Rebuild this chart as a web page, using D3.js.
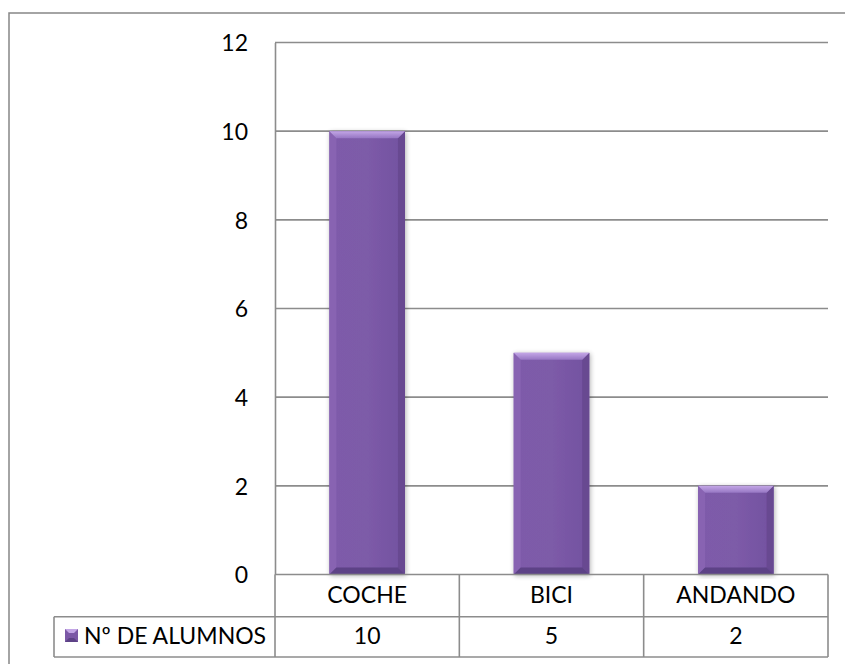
<!DOCTYPE html>
<html>
<head>
<meta charset="utf-8">
<script src="https://cdn.jsdelivr.net/npm/d3@7"></script>
<style>
  html, body { margin: 0; padding: 0; background: #fff; }
  svg { display: block; }
  text { font-family: Lato, "Open Sans", sans-serif; fill: #000; }
</style>
</head>
<body>
<svg id="chart" width="845" height="664"></svg>
<script>
// Chart data
const categories = ["COCHE", "BICI", "ANDANDO"];
const seriesName = "Nº DE ALUMNOS";
const values = [10, 5, 2];
const yTicks = [0, 2, 4, 6, 8, 10, 12];

const W = 845, H = 664;
const plot = { left: 275, right: 828, top: 42.5, bottom: 574.5 };
const table = { left: 54, row1: 616.7, row2: 657 };
const fontSize = 23;

const svg = d3.select("#chart");
const defs = svg.append("defs");

// Bar body gradient and soft shadow
const body = defs.append("linearGradient").attr("id", "barBody")
  .attr("x1", 0).attr("y1", 0).attr("x2", 1).attr("y2", 0);
body.append("stop").attr("offset", "0%").attr("stop-color", "#7e5aaa");
body.append("stop").attr("offset", "50%").attr("stop-color", "#7d5ba8");
body.append("stop").attr("offset", "100%").attr("stop-color", "#7251a0");

const topBevel = defs.append("linearGradient").attr("id", "topBevel")
  .attr("x1", 0).attr("y1", 0).attr("x2", 0).attr("y2", 1);
topBevel.append("stop").attr("offset", "0%").attr("stop-color", "#c3a6e6");
topBevel.append("stop").attr("offset", "100%").attr("stop-color", "#9676c3");

const shadow = defs.append("filter").attr("id", "barShadow")
  .attr("x", "-20%").attr("y", "-5%").attr("width", "140%").attr("height", "110%");
shadow.append("feGaussianBlur").attr("in", "SourceAlpha").attr("stdDeviation", 2.5).attr("result", "b");
shadow.append("feOffset").attr("in", "b").attr("dx", 1).attr("dy", 1).attr("result", "o");
shadow.append("feComponentTransfer").attr("in", "o").attr("result", "s")
  .append("feFuncA").attr("type", "linear").attr("slope", 0.3);
const merge = shadow.append("feMerge");
merge.append("feMergeNode").attr("in", "s");
merge.append("feMergeNode").attr("in", "SourceGraphic");

// Outer chart frame
svg.append("rect")
  .attr("x", 9).attr("y", 13).attr("width", W).attr("height", H)
  .attr("fill", "none").attr("stroke", "#868686").attr("stroke-width", 1.5);

// Scales
const y = d3.scaleLinear().domain([0, 12]).range([plot.bottom, plot.top]);
const x = d3.scaleBand().domain(categories).range([plot.left, plot.right])
  .paddingInner(0.59).paddingOuter(0.295);
const cat = d3.scaleBand().domain(categories).range([plot.left, plot.right]);

// Horizontal gridlines
svg.append("g").selectAll("line")
  .data(yTicks.filter(d => d > 0))
  .join("line")
  .attr("x1", plot.left).attr("x2", plot.right)
  .attr("y1", d => y(d)).attr("y2", d => y(d))
  .attr("stroke", "#8c8c8c").attr("stroke-width", 1.6);

// Y axis labels
const yAxis = svg.append("g")
  .attr("transform", `translate(${plot.left},0)`)
  .call(d3.axisLeft(y).tickValues(yTicks).tickSize(0).tickPadding(27));
yAxis.select(".domain").attr("stroke", "#8c8c8c").attr("stroke-width", 1.6);
yAxis.selectAll("text")
  .attr("font-family", "Lato, 'Open Sans', sans-serif")
  .attr("font-size", fontSize).attr("fill", "#000").attr("dy", "0.36em");

// Bars with bevel
const bev = 7;
const bars = svg.append("g").selectAll("g")
  .data(values.map((v, i) => ({ c: categories[i], v })))
  .join("g")
  .attr("filter", "url(#barShadow)");

bars.append("rect")
  .attr("x", d => x(d.c)).attr("y", d => y(d.v))
  .attr("width", x.bandwidth()).attr("height", d => y(0) - y(d.v))
  .attr("fill", "url(#barBody)");

// left bevel
bars.append("path").attr("fill", "#8864b2").attr("d", d => {
  const x0 = x(d.c), y0 = y(d.v), y1 = y(0);
  return `M${x0},${y0}L${x0 + bev},${y0 + bev}L${x0 + bev},${y1 - bev}L${x0},${y1}Z`;
});
// right bevel
bars.append("path").attr("fill", "#674891").attr("d", d => {
  const x1 = x(d.c) + x.bandwidth(), y0 = y(d.v), y1 = y(0);
  return `M${x1},${y0}L${x1 - bev},${y0 + bev}L${x1 - bev},${y1 - bev}L${x1},${y1}Z`;
});
// bottom bevel
bars.append("path").attr("fill", "#5d4286").attr("d", d => {
  const x0 = x(d.c), x1 = x0 + x.bandwidth(), y1 = y(0);
  return `M${x0},${y1}L${x0 + bev},${y1 - bev}L${x1 - bev},${y1 - bev}L${x1},${y1}Z`;
});
// top bevel
bars.append("path").attr("fill", "url(#topBevel)").attr("d", d => {
  const x0 = x(d.c), x1 = x0 + x.bandwidth(), y0 = y(d.v);
  return `M${x0},${y0}L${x1},${y0}L${x1 - bev},${y0 + bev}L${x0 + bev},${y0 + bev}Z`;
});

// Data table grid
const grid = svg.append("g").attr("stroke", "#8c8c8c").attr("stroke-width", 1.6);
grid.append("line").attr("x1", plot.left).attr("x2", plot.right)
  .attr("y1", plot.bottom).attr("y2", plot.bottom);
grid.append("line").attr("x1", table.left).attr("x2", plot.right)
  .attr("y1", table.row1).attr("y2", table.row1);
grid.append("line").attr("x1", table.left).attr("x2", plot.right)
  .attr("y1", table.row2).attr("y2", table.row2);
grid.append("line").attr("x1", table.left).attr("x2", table.left)
  .attr("y1", table.row1).attr("y2", table.row2);
grid.selectAll("line.col")
  .data([plot.left, ...categories.slice(1).map(c => cat(c)), plot.right])
  .join("line").attr("class", "col")
  .attr("x1", d => d).attr("x2", d => d)
  .attr("y1", plot.bottom).attr("y2", table.row2);

// Category labels
svg.append("g").selectAll("text")
  .data(categories).join("text")
  .attr("x", d => cat(d) + cat.bandwidth() / 2)
  .attr("y", 603)
  .attr("text-anchor", "middle")
  .attr("font-size", fontSize)
  .text(d => d);

// Value row
svg.append("g").selectAll("text")
  .data(values.map((v, i) => ({ c: categories[i], v })))
  .join("text")
  .attr("x", d => cat(d.c) + cat.bandwidth() / 2)
  .attr("y", 643.5)
  .attr("text-anchor", "middle")
  .attr("font-size", fontSize)
  .text(d => d.v);

// Legend key and series name
const key = svg.append("g").attr("transform", "translate(65,629)");
key.append("rect").attr("width", 13).attr("height", 13).attr("fill", "#7b58a6");
key.append("path").attr("d", "M0,0L13,0L9,4L4,4Z").attr("fill", "#c3a6e6");
key.append("path").attr("d", "M0,13L13,13L9,9L4,9Z").attr("fill", "#5d4286");
svg.append("text")
  .attr("x", 84).attr("y", 643.5)
  .attr("font-size", fontSize)
  .text(seriesName);
</script>
</body>
</html>
